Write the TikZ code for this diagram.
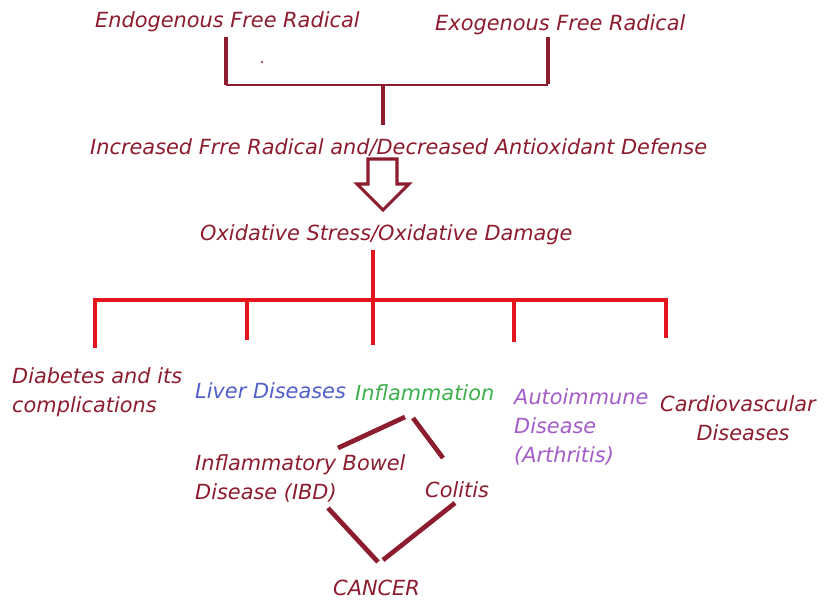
\documentclass[tikz,border=0pt]{standalone}
\usepackage{fontspec}
\setmainfont{DejaVu Sans}
\definecolor{maroon}{HTML}{8C1C2E}
\definecolor{redl}{HTML}{E3161E}
\definecolor{liverblue}{HTML}{5060C8}
\definecolor{inflgreen}{HTML}{3CB04A}
\definecolor{autopurple}{HTML}{A35CC8}

\begin{document}
\begin{tikzpicture}[x=0.03cm,y=-0.03cm,
    lbl/.style={font=\fontsize{17.8}{24.7}\selectfont\itshape, text=maroon,
      inner sep=0pt, anchor=west, align=left},
    bar/.style={draw=maroon, line width=4.2pt},
    joint/.style={draw=maroon, line width=1.8pt},
    redbar/.style={draw=redl, line width=2.6pt},
    link/.style={draw=maroon, line width=4pt}]
  \useasboundingbox[fill=white] (0,0) rectangle (825,601);

  % free radical sources
  \node[lbl] (endo) at (95,22) {Endogenous Free Radical};
  \node[lbl] (exo) at (435,25) {Exogenous Free Radical};
  \coordinate (endoB) at (226,37);
  \coordinate (endoE) at (226,85);
  \coordinate (exoB) at (548,37);
  \coordinate (exoE) at (548,84);
  \coordinate (mid) at (383,85);
  \coordinate (midE) at (383,125);
  \draw[bar] (endoB) -- (endoE);
  \draw[bar] (exoB) -- (exoE);
  \draw[joint] (endoE) -- (exoE |- endoE);
  \draw[bar] (mid) -- (midE);
  \fill[maroon] (262,62) circle (1.2);

  \node[lbl] (incr) at (90,148) {Increased Frre Radical and/Decreased Antioxidant Defense};

  % hollow arrow
  \coordinate (arrtip) at (383,210);
  \draw[maroon, line width=2.6pt, line join=miter, fill=white]
    (368,159) -- (397,159) -- (397,184) -- (409,184) -- (arrtip)
    -- (357,184) -- (368,184) -- cycle;

  \node[lbl] (oxid) at (200,235) {Oxidative Stress/Oxidative Damage};

  % branches
  \coordinate (hub) at (373,300);
  \draw[redbar] (373,250) -- (hub);
  \draw[draw=redl, line width=3.4pt] (93,300) -- (668,300);
  \foreach \bx/\by in {95/348, 247/340, 373/345, 514/342, 666/338}
    \draw[redbar] (\bx,300) -- (\bx,\by);

  \node[lbl] (diab) at (12,392) {Diabetes and its\\complications};
  \node[lbl, text=liverblue] (liver) at (195,391) {Liver Diseases};
  \node[lbl, text=inflgreen] (infl) at (355,393) {Inflammation};
  \node[lbl, text=autopurple] (auto) at (514,427) {Autoimmune\\Disease\\(Arthritis)};
  \node[lbl] (cardio) at (660,418) {Cardiovascular\\\hspace*{31pt}Diseases};

  \node[lbl] (ibd) at (195,478) {Inflammatory Bowel\\Disease (IBD)};
  \node[lbl] (colitis) at (425,490) {Colitis};
  \node[lbl] (cancer) at (333,588) {CANCER};

  \draw[link] (405,417) -- (338,448);
  \draw[link] (413,418) -- (443,458);
  \draw[link] (328,508) -- (378,562);
  \draw[link] (455,503) -- (383,560);
\end{tikzpicture}
\end{document}
